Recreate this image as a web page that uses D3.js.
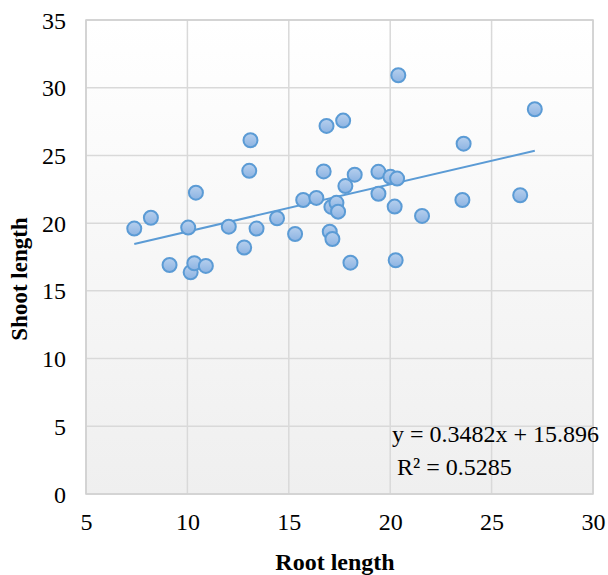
<!DOCTYPE html>
<html>
<head>
<meta charset="utf-8">
<script src="https://cdn.jsdelivr.net/npm/d3@7"></script>
<style>
    body { margin: 0; background: #fff; }
    text { font-family: "Liberation Serif", "Times New Roman", serif; fill: #000; }
</style>
</head>
<body>
<div class="module-graph"></div>
<script>
"use strict"

// root length (x) / shoot length (y)
const rootLength = [7.38, 8.2, 9.12, 10.04, 10.16, 10.34, 10.42, 10.91, 12.04, 12.8,
    13.05, 13.11, 13.41, 14.42, 15.31, 15.71, 16.36, 16.72, 16.86, 17.02,
    17.10, 17.15, 17.35, 17.43, 17.68, 17.79, 18.04, 18.25, 19.42, 19.42,
    20.01, 20.22, 20.27, 20.34, 20.4, 21.57, 23.56, 23.62, 26.41, 27.13];
const shootLength = [19.6, 20.4, 16.91, 19.67, 16.37, 17.04, 22.25, 16.84, 19.74, 18.2,
    23.86, 26.12, 19.6, 20.36, 19.2, 21.71, 21.86, 23.82, 27.18, 19.37,
    21.2, 18.83, 21.5, 20.85, 27.57, 22.74, 17.08, 23.58, 23.79, 22.17,
    23.42, 21.22, 17.26, 23.29, 30.92, 20.53, 21.71, 25.87, 22.06, 28.41];
const xTicks = [5, 10, 15, 20, 25, 30];
const yTicks = [0, 5, 10, 15, 20, 25, 30, 35];
const trend = { slope: 0.3482, intercept: 15.896 };
const labels = ["y = 0.3482x + 15.896", "R² = 0.5285"];

let height = 575,
    width = 608;
const plot = { left: 86, right: 593, top: 20, bottom: 494 };

const svg = d3.select("div.module-graph").append("svg")
    .attr("width", width)
    .attr("height", height);

const defs = svg.append("defs");
const bg = defs.append("linearGradient")
    .attr("id", "bg")
    .attr("x1", 0).attr("y1", 0).attr("x2", 0).attr("y2", 1);
bg.append("stop").attr("offset", "0%").attr("stop-color", "#ffffff");
bg.append("stop").attr("offset", "100%").attr("stop-color", "#efefef");

const dotFill = defs.append("linearGradient")
    .attr("id", "dotfill")
    .attr("x1", 0).attr("y1", 0).attr("x2", 0).attr("y2", 1);
dotFill.append("stop").attr("offset", "0%").attr("stop-color", "#b7d0ee");
dotFill.append("stop").attr("offset", "100%").attr("stop-color", "#8cb3e2");

const scaleX = d3.scaleLinear()
    .domain([5, 30])
    .range([plot.left, plot.right]);

const scaleY = d3.scaleLinear()
    .domain([0, 35])
    .range([plot.bottom, plot.top]);

// plot background
svg.append("rect")
    .attr("x", plot.left)
    .attr("y", plot.top)
    .attr("width", plot.right - plot.left)
    .attr("height", plot.bottom - plot.top)
    .attr("fill", "url(#bg)");

// grid
svg.append("g").selectAll("line")
    .data(xTicks)
    .join("line")
    .attr("x1", d => scaleX(d))
    .attr("x2", d => scaleX(d))
    .attr("y1", plot.top)
    .attr("y2", plot.bottom)
    .attr("stroke", "#d9d9d9")
    .attr("stroke-width", 1.5);

svg.append("g").selectAll("line")
    .data(yTicks)
    .join("line")
    .attr("x1", plot.left)
    .attr("x2", plot.right)
    .attr("y1", d => scaleY(d))
    .attr("y2", d => scaleY(d))
    .attr("stroke", "#d9d9d9")
    .attr("stroke-width", 1.5);

svg.append("rect")
    .attr("x", plot.left)
    .attr("y", plot.top)
    .attr("width", plot.right - plot.left)
    .attr("height", plot.bottom - plot.top)
    .attr("fill", "none")
    .attr("stroke", "#d0d0d0")
    .attr("stroke-width", 1.5);

// axes (only labels, lines are the grid)
const xAxis = d3.axisBottom(scaleX).tickValues(xTicks).tickSize(0).tickPadding(0);
const yAxis = d3.axisLeft(scaleY).tickValues(yTicks).tickSize(0).tickPadding(0);

svg.append("g")
    .attr("transform", "translate(0," + plot.bottom + ")")
    .attr("font-family", null)
    .call(xAxis)
    .call(g => g.select(".domain").remove())
    .selectAll("text")
    .attr("dy", null)
    .attr("y", 36)
    .attr("font-size", 24)
    .style("font-family", "Liberation Serif");

svg.append("g")
    .attr("transform", "translate(66,0)")
    .call(yAxis)
    .call(g => g.select(".domain").remove())
    .selectAll("text")
    .attr("dy", null)
    .attr("y", 8)
    .attr("x", 0)
    .attr("font-size", 24)
    .style("font-family", "Liberation Serif");

// trend line
const xExtent = d3.extent(rootLength);
svg.append("line")
    .attr("x1", scaleX(xExtent[0]))
    .attr("y1", scaleY(trend.slope * xExtent[0] + trend.intercept))
    .attr("x2", scaleX(xExtent[1]))
    .attr("y2", scaleY(trend.slope * xExtent[1] + trend.intercept))
    .attr("stroke", "#5b9bd5")
    .attr("stroke-width", 2);

// points
svg.append("g").selectAll("circle")
    .data(d3.zip(rootLength, shootLength))
    .join("circle")
    .attr("cx", d => scaleX(d[0]))
    .attr("cy", d => scaleY(d[1]))
    .attr("r", 7)
    .attr("fill", "url(#dotfill)")
    .attr("stroke", "#5b9bd5")
    .attr("stroke-width", 2);

// equation
svg.append("text")
    .attr("x", 392)
    .attr("y", 442)
    .attr("font-size", 24)
    .text(labels[0]);
svg.append("text")
    .attr("x", 397)
    .attr("y", 475)
    .attr("font-size", 24)
    .text(labels[1]);

// titles
svg.append("text")
    .attr("x", 335)
    .attr("y", 570)
    .attr("text-anchor", "middle")
    .attr("font-size", 24)
    .attr("font-weight", "bold")
    .text("Root length");

svg.append("text")
    .attr("transform", "translate(27,279) rotate(-90)")
    .attr("text-anchor", "middle")
    .attr("font-size", 23)
    .attr("font-weight", "bold")
    .text("Shoot length");
</script>
</body>
</html>
